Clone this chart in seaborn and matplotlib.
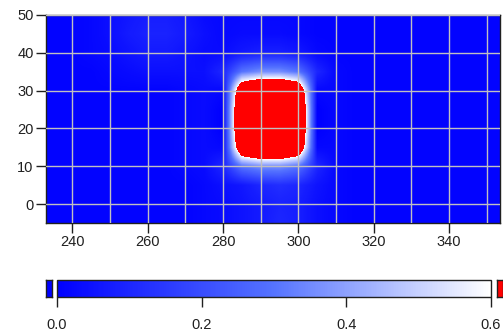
# heatmap with a saturated red blob and a horizontal colorbar
import numpy as np
import matplotlib
matplotlib.use("Agg")
import matplotlib.pyplot as plt
import seaborn as sns

# ─────────────────────────────────────────
# DATA (node values)
# ─────────────────────────────────────────
x_nodes = [235, 240, 245, 250, 255, 260, 265, 270, 275, 280, 285, 290, 295,
           300, 305, 310, 315, 320, 325, 330, 335, 340, 345, 350, 355]
y_nodes = [50, 45, 40, 35, 30, 25, 20, 15, 10, 5, 0, -5]   # top to bottom

row_50 = [0.01, 0.01, 0.02, 0.04, 0.06, 0.08, 0.08, 0.06, 0.03, 0.02, 0.02, 0.02, 0.02,
          0.02, 0.01, 0.01, 0.01, 0.01, 0.01, 0.01, 0.01, 0.01, 0.01, 0.01, 0.01]
row_45 = [0.01, 0.01, 0.02, 0.04, 0.07, 0.09, 0.09, 0.07, 0.04, 0.02, 0.03, 0.03, 0.03,
          0.02, 0.01, 0.01, 0.01, 0.01, 0.01, 0.01, 0.01, 0.01, 0.01, 0.01, 0.01]
row_40 = [0.01, 0.01, 0.02, 0.03, 0.05, 0.07, 0.07, 0.05, 0.03, 0.03, 0.06, 0.08, 0.08,
          0.06, 0.02, 0.01, 0.01, 0.01, 0.01, 0.01, 0.01, 0.01, 0.01, 0.01, 0.01]
row_35 = [0.01, 0.01, 0.01, 0.02, 0.03, 0.04, 0.04, 0.04, 0.04, 0.10, 0.30, 0.36, 0.36,
          0.30, 0.10, 0.02, 0.01, 0.01, 0.01, 0.01, 0.01, 0.01, 0.01, 0.01, 0.01]
row_30 = [0.01, 0.01, 0.01, 0.01, 0.01, 0.01, 0.01, 0.02, 0.03, 0.02, 0.86, 1.00, 1.00,
          0.86, 0.02, 0.02, 0.01, 0.01, 0.01, 0.01, 0.01, 0.01, 0.01, 0.01, 0.01]
row_25 = [0.01, 0.01, 0.01, 0.01, 0.01, 0.01, 0.01, 0.02, 0.03, 0.00, 1.00, 1.20, 1.20,
          1.00, 0.00, 0.02, 0.01, 0.01, 0.01, 0.01, 0.01, 0.01, 0.01, 0.01, 0.01]
row_20 = [0.01, 0.01, 0.01, 0.01, 0.01, 0.01, 0.01, 0.02, 0.03, 0.00, 1.00, 1.20, 1.20,
          1.00, 0.00, 0.02, 0.01, 0.01, 0.01, 0.01, 0.01, 0.01, 0.01, 0.01, 0.01]
row_15 = [0.01, 0.01, 0.01, 0.01, 0.01, 0.01, 0.01, 0.02, 0.03, 0.02, 0.86, 1.00, 1.00,
          0.86, 0.02, 0.02, 0.01, 0.01, 0.01, 0.01, 0.01, 0.01, 0.01, 0.01, 0.01]
row_10 = [0.01, 0.01, 0.01, 0.01, 0.01, 0.01, 0.01, 0.02, 0.03, 0.10, 0.30, 0.36, 0.36,
          0.30, 0.10, 0.02, 0.01, 0.01, 0.01, 0.01, 0.01, 0.01, 0.01, 0.01, 0.01]
row_05 = [0.01, 0.01, 0.01, 0.01, 0.01, 0.01, 0.01, 0.01, 0.02, 0.04, 0.06, 0.10, 0.12,
          0.10, 0.05, 0.02, 0.01, 0.01, 0.01, 0.01, 0.01, 0.01, 0.01, 0.01, 0.01]
row_00 = [0.01, 0.01, 0.01, 0.01, 0.01, 0.01, 0.01, 0.01, 0.02, 0.03, 0.05, 0.07, 0.09,
          0.08, 0.04, 0.02, 0.01, 0.01, 0.01, 0.01, 0.01, 0.01, 0.01, 0.01, 0.01]
row_m5 = [0.01, 0.01, 0.01, 0.01, 0.01, 0.01, 0.01, 0.01, 0.02, 0.03, 0.05, 0.07, 0.10,
          0.08, 0.04, 0.02, 0.01, 0.01, 0.01, 0.01, 0.01, 0.01, 0.01, 0.01, 0.01]

x_ticks = [240, 260, 280, 300, 320, 340]
y_ticks = [0, 10, 20, 30, 40, 50]
cbar_ticks = [0.0, 0.2, 0.4, 0.6]
cbar_labels = ["0.0", "0.2", "0.4", "0.6"]

# ─────────────────────────────────────────
# STYLE
# ─────────────────────────────────────────
sns.set_style("white")
plt.rcParams['font.family'] = ['Liberation Sans', 'DejaVu Sans']
plt.rcParams['font.size'] = 10.5

cmap = sns.blend_palette(["#0000ff", "#5573ff", "#ffffff"], as_cmap=True)
cmap.set_under("#0000ff")
cmap.set_over("#ff0000")

grid = np.array([row_50, row_45, row_40, row_35, row_30, row_25, row_20,
                 row_15, row_10, row_05, row_00, row_m5])

fig = plt.figure(figsize=(5.03, 3.32), dpi=100)
ax = fig.add_axes([46 / 503, 1 - 223 / 332, 454 / 503, 208 / 332])

dx = 2.5
extent = (x_nodes[0] - dx, x_nodes[-1] + dx, y_nodes[-1] - dx, y_nodes[0] + dx)
im = ax.imshow(grid, cmap=cmap, vmin=0, vmax=0.6, extent=extent,
               interpolation='bilinear', interpolation_stage='data',
               aspect='auto', origin='upper')
ax.set_xlim(233, 353.5)
ax.set_ylim(-5, 50)

# grid lines every 10 units
for gx in range(240, 360, 10):
    ax.axvline(gx, color='#c0c0c0', lw=1, zorder=3)
for gy in range(0, 60, 10):
    ax.axhline(gy, color='#c0c0c0', lw=1, zorder=3)

ax.set_xticks(x_ticks)
ax.set_yticks(y_ticks)
ax.tick_params(direction='out', length=7, width=1, color='#202020',
               pad=2, labelsize=10.5, labelcolor='#202020',
               bottom=True, left=True)
for side in ax.spines.values():
    side.set_color('#202020')
    side.set_linewidth(1)

# ─────────────────────────────────────────
# COLORBAR
# ─────────────────────────────────────────
cax = fig.add_axes([57 / 503, 1 - 297 / 332, 434 / 503, 17 / 332])
cb = fig.colorbar(im, cax=cax, orientation='horizontal')
cb.set_ticks(cbar_ticks)
cb.set_ticklabels(cbar_labels)
cb.outline.set_edgecolor('#202020')
cb.outline.set_linewidth(1)
cax.tick_params(direction='out', length=7, width=1, color='#202020',
                pad=8, labelsize=10.5, labelcolor='#202020')

# under / over swatches
for left, col in [(46, "#0000ff"), (497, "#ff0000")]:
    sw = fig.add_axes([left / 503, 1 - 297 / 332, 6 / 503, 17 / 332])
    sw.set_facecolor(col)
    sw.set_xticks([])
    sw.set_yticks([])
    for side in sw.spines.values():
        side.set_color('#202020')
        side.set_linewidth(1)

fig.savefig("out.png", dpi=100)
